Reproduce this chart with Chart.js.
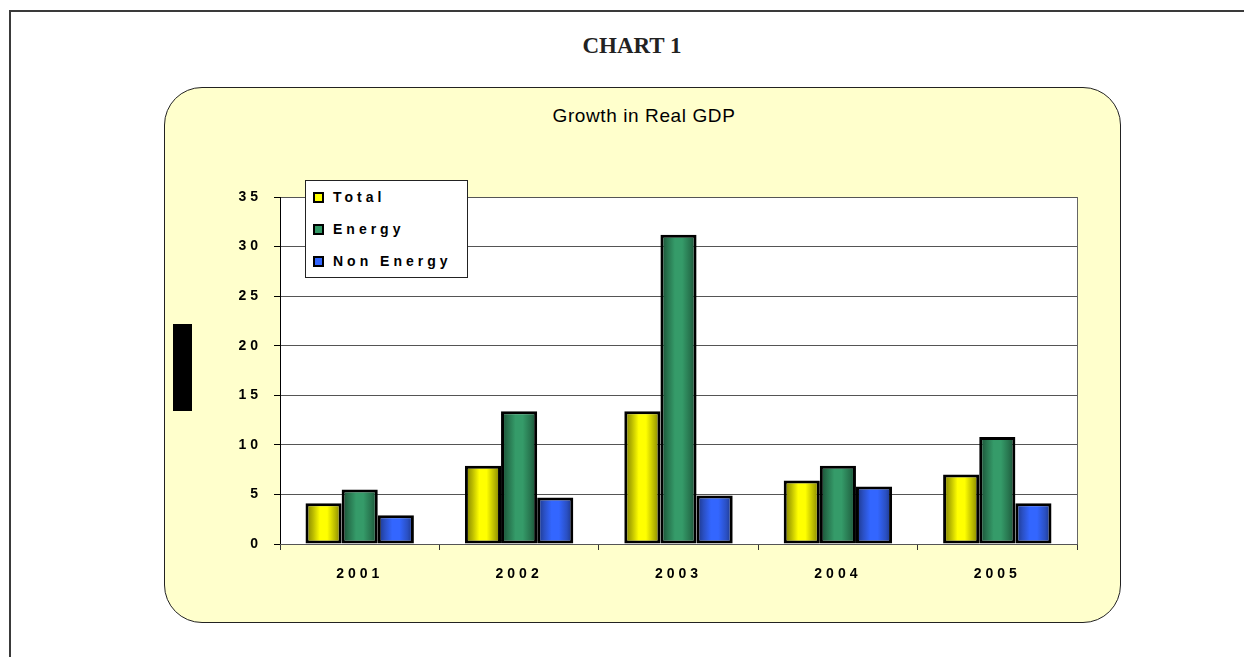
<!DOCTYPE html>
<html>
<head>
<meta charset="utf-8">
<script src="https://cdn.jsdelivr.net/npm/chart.js@4.4.1/dist/chart.umd.min.js"></script>
<style>
    html, body { margin: 0; padding: 0; background: #fff; }
    body { width: 1244px; height: 657px; position: relative; overflow: hidden; }
    .frame { position: absolute; left: 9px; top: 10px; width: 1300px; height: 700px;
        border-top: 2px solid #3a3a3a; border-left: 2px solid #3a3a3a; }
    .head { position: absolute; left: 0; top: 34px; width: 1264px; text-align: center;
        font: bold 23px "Liberation Serif", serif; line-height: 23px; color: #222; }
    .panel { position: absolute; left: 164px; top: 87px; width: 955px; height: 534px;
        background: #ffffcc; border: 1.5px solid #222; border-radius: 38px; }
    .sub { position: absolute; left: 0; top: 106px; width: 1288px; text-align: center;
        font: 19px "Liberation Sans", Arial, sans-serif; line-height: 19px; color: #000; letter-spacing: 0.6px; }
    .blk { position: absolute; left: 173px; top: 324px; width: 19px; height: 87px; background: #000; }
    #chart { position: absolute; left: 0; top: 0; }
    .legend { position: absolute; left: 305px; top: 180px; width: 161px; height: 96px;
        background: #fff; border: 1px solid #222; }
    .row { position: absolute; left: 7px; height: 14px; display: flex; align-items: center;
        font: bold 14px "Liberation Sans", Arial, sans-serif; letter-spacing: 4px; color: #000; }
    .sw { width: 7px; height: 7px; border: 2px solid #000; margin-right: 9px; }
</style>
</head>
<body>
<div class="frame"></div>
<div class="head">CHART 1</div>
<div class="panel"></div>
<div class="sub">Growth in Real GDP</div>
<div class="blk"></div>
<canvas id="chart" width="1244" height="657"></canvas>
<div class="legend" id="legend"></div>

<script>
// values
const categories = ["2001", "2002", "2003", "2004", "2005"];
const total = [4.1, 7.9, 13.4, 6.4, 7.0];
const energy = [5.5, 13.4, 31.2, 7.9, 10.8];
const nonEnergy = [2.9, 4.7, 4.9, 5.8, 4.1];
const yTicks = [0, 5, 10, 15, 20, 25, 30, 35];

const seriesNames = ["Total", "Energy", "Non Energy"];
const swatch = ["#ffff00", "#339966", "#3366ff"];
// dark edge, mid, bright centre
const shades = [
    ["#7a7a00", "#b8b800", "#ffff00"],
    ["#184a31", "#27744e", "#359b69"],
    ["#1a3380", "#2a50c4", "#3366ff"],
];
const CAT_PCT = 0.68;

function cylinder(si) {
    return (c) => {
        const xs = c.chart.scales.x;
        if (!xs || c.dataIndex === undefined) return shades[si][2];
        const catW = xs.width / categories.length;
        const barW = (catW * CAT_PCT) / 3;
        const mid = xs.getPixelForValue(c.dataIndex);
        const left = mid - (catW * CAT_PCT) / 2 + c.datasetIndex * barW;
        if (!Number.isFinite(left) || !Number.isFinite(barW) || barW <= 0) return shades[si][2];
        const g = c.chart.ctx.createLinearGradient(left, 0, left + barW, 0);
        const s = shades[si];
        g.addColorStop(0, s[0]);
        g.addColorStop(0.2, s[1]);
        g.addColorStop(0.4, s[2]);
        g.addColorStop(0.6, s[2]);
        g.addColorStop(0.82, s[1]);
        g.addColorStop(1, s[0]);
        return g;
    };
}

const spacing = {
    id: "spacing",
    beforeUpdate(chart) { chart.ctx.letterSpacing = "4px"; },
    beforeDraw(chart) {
        const { ctx, chartArea: a } = chart;
        ctx.letterSpacing = "4px";
        ctx.save();
        ctx.fillStyle = "#ffffff";
        ctx.fillRect(a.left, a.top, a.right - a.left, a.bottom - a.top);
        ctx.restore();
    },
    afterDatasetsDraw(chart) {
        const { ctx, chartArea: a } = chart;
        ctx.save();
        ctx.strokeStyle = "#666";
        ctx.lineWidth = 1;
        ctx.beginPath();
        ctx.moveTo(Math.round(a.right) + 0.5, a.top);
        ctx.lineTo(Math.round(a.right) + 0.5, a.bottom);
        ctx.stroke();
        ctx.restore();
    },
};

const tickFont = { family: "Liberation Sans", size: 14, weight: "bold" };

const chart = new Chart(document.getElementById("chart").getContext("2d"), {
    type: "bar",
    data: {
        labels: categories,
        datasets: [total, energy, nonEnergy].map((d, i) => ({
            label: seriesNames[i],
            data: d,
            backgroundColor: cylinder(i),
            borderColor: "#000",
            borderWidth: 3,
            borderSkipped: false,
            categoryPercentage: CAT_PCT,
            barPercentage: 1.0,
        })),
    },
    options: {
        responsive: false,
        animation: false,
        layout: { padding: { left: 220, right: 167, top: 197, bottom: 73 } },
        plugins: { legend: { display: false }, tooltip: { enabled: false } },
        scales: {
            y: {
                min: 0,
                max: 35,
                afterFit: (s) => { s.width = 60; },
                afterBuildTicks: (s) => { s.ticks = yTicks.map((v) => ({ value: v })); },
                grid: { color: "#555", tickColor: "#000", tickLength: 6, lineWidth: 1 },
                border: { color: "#000", width: 1 },
                ticks: { font: tickFont, color: "#000", padding: 12 },
            },
            x: {
                afterFit: (s) => { s.height = 40; },
                grid: { drawOnChartArea: false, offset: true, tickLength: 6, tickColor: "#333" },
                border: { color: "#555", width: 1 },
                ticks: { font: tickFont, color: "#000", padding: 16 },
            },
        },
    },
    plugins: [spacing],
});
// re-run once the scales have positions so the gradients line up with the bars
chart.update();

const legendBox = document.getElementById("legend");
seriesNames.forEach((name, i) => {
    legendBox.innerHTML += `
<div class="row" style="top:${9 + i * 32}px">
    <span class="sw" style="background:${swatch[i]}"></span>
    <span>${name}</span>
</div>`;
});
</script>
</body>
</html>
